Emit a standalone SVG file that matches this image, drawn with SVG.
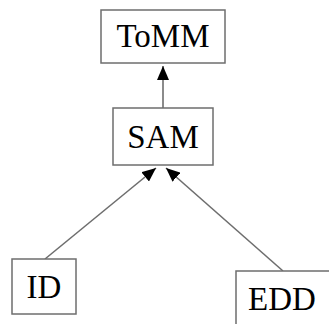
<svg xmlns="http://www.w3.org/2000/svg" width="329" height="324" viewBox="0 0 329 324">
<style>
.box{fill:#fff;stroke:#6e6e6e;stroke-width:1.5}
.lbl{font-family:"Liberation Serif","Times New Roman",serif;font-size:33px;fill:#000;text-anchor:middle}
.edge{stroke:#6e6e6e;stroke-width:1.6;fill:none;marker-end:url(#ah)}
</style>
<defs>
<marker id="ah" viewBox="0 0 14 12" refX="14" refY="6" markerWidth="14" markerHeight="12" markerUnits="userSpaceOnUse" orient="auto">
<path d="M0,0 L14,6 L0,12 Z" fill="#000"/>
</marker>
</defs>
<rect width="329" height="324" fill="#fff"/>
<g id="connectors">
<line class="edge" x1="163" y1="108" x2="163" y2="66"/>
<line class="edge" x1="45" y1="259" x2="156" y2="168"/>
<line class="edge" x1="283" y1="271" x2="166" y2="168"/>
</g>
<g id="ToMM">
<rect class="box" x="101" y="10" width="124" height="53"/>
<text class="lbl" x="163" y="47">ToMM</text>
</g>
<g id="SAM">
<rect class="box" x="113" y="108" width="100" height="57"/>
<text class="lbl" x="163" y="148">SAM</text>
</g>
<g id="ID">
<rect class="box" x="12" y="259" width="64" height="55"/>
<text class="lbl" x="44" y="298">ID</text>
</g>
<g id="EDD">
<rect class="box" x="236" y="271" width="110" height="70"/>
<text class="lbl" x="282" y="310">EDD</text>
</g>
</svg>
